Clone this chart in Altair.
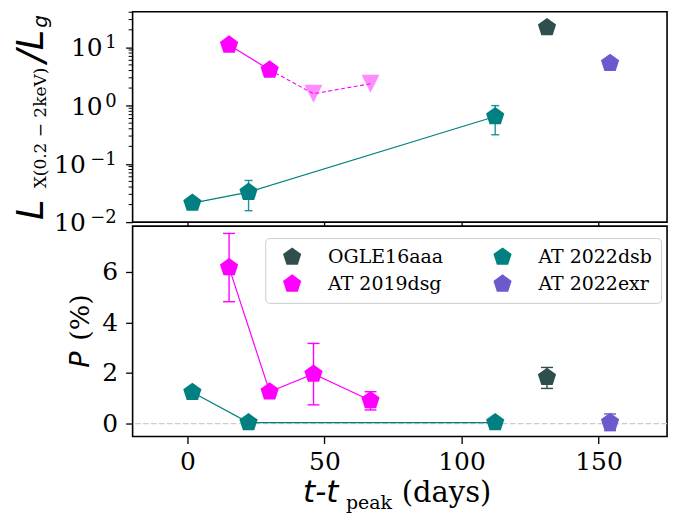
import altair as alt
import pandas as pd

PENTAGON = "M0,-1L0.951,-0.309L0.588,0.809L-0.588,0.809L-0.951,-0.309Z"
TRI_DOWN = "M-1,-1L1,-1L0,1Z"
SERIF = "DejaVu Serif"
SANS = "DejaVu Sans"

# ---------------- sources ----------------
names = ["OGLE16aaa", "AT 2019dsg", "AT 2022dsb", "AT 2022exr"]
name_colors = ["#2f4f4f", "#ff00ff", "#008080", "#6a5acd"]

# ---------------- L_X / L_g ----------------
ogle_t = [131.2]
ogle_ratio = [21.9]
dsg_t = [15.2, 30.0]
dsg_ratio = [11.0, 4.1]
dsg_lim_t = [46.0, 66.8]          # upper limits
dsg_lim_ratio = [1.6, 2.37]
dsb_t = [1.8, 22.3, 112.3]
dsb_ratio = [0.0212, 0.0327, 0.65]
dsb_err_t = [22.3, 112.3]
dsb_ratio_lo = [0.0157, 0.316]
dsb_ratio_hi = [0.0519, 1.0]
exr_t = [154.2]
exr_ratio = [5.33]

# ---------------- polarisation degree (%) ----------------
ogle_pol = [1.83]
ogle_pol_lo = [1.39]
ogle_pol_hi = [2.22]
dsg_pol_t = [15.2, 30.0, 46.0, 66.8]
dsg_pol = [6.17, 1.26, 1.96, 0.91]
dsg_err_t = [15.2, 46.0, 66.8]
dsg_pol_lo = [4.82, 0.74, 0.54]
dsg_pol_hi = [7.52, 3.17, 1.26]
dsb_pol = [1.24, 0.04, 0.04]
exr_pol = [0.05]
exr_pol_lo = [-0.28]
exr_pol_hi = [0.38]

# ---------------- axes ----------------
x_ticks = [0, 50, 100, 150]
ratio_ticks = [0.01, 0.1, 1, 10]
ratio_exps = ["\u22122", "\u22121", "0", "1"]
pol_ticks = [0, 2, 4, 6]
minor_ticks = [k * 10.0 ** e for e in (-2, -1, 0, 1) for k in range(2, 10) if k * 10.0 ** e <= 40.9]

W, H = 536, 211
MARK = 370
xs = alt.Scale(domain=[-20, 175], nice=False, zero=False)
ys_top = alt.Scale(type="log", domain=[0.01, 40.9], nice=False)
ys_bot = alt.Scale(domain=[-0.51, 7.81], nice=False, zero=False)
cscale = alt.Scale(domain=names, range=name_colors)

top_x_axis = alt.Axis(values=x_ticks, labels=False, title=None, tickSize=4)
top_y_axis = alt.Axis(values=ratio_ticks, labels=False, title=None)
bot_x_axis = alt.Axis(values=x_ticks, title=None, labelPadding=6)
bot_y_axis = alt.Axis(values=pol_ticks, title=None, labelPadding=8)


def df(**cols):
    return pd.DataFrame(cols)


XT = lambda: alt.X("t:Q", scale=xs, axis=top_x_axis)
XB = lambda: alt.X("t:Q", scale=xs, axis=bot_x_axis)
YT = lambda f="v": alt.Y(f"{f}:Q", scale=ys_top, axis=top_y_axis)
YB = lambda f="v": alt.Y(f"{f}:Q", scale=ys_bot, axis=bot_y_axis)


def text_piece(s, x, y, font, size, italic=False, angle=0, align="left"):
    return alt.Chart(df(s=[s])).mark_text(
        font=font, fontSize=size, fontStyle="italic" if italic else "normal",
        angle=angle, align=align, baseline="alphabetic", color="black"
    ).encode(text="s:N", x=alt.value(x), y=alt.value(y))


def errorbars(data, Xf, Yf, color, cap, opacity=1.0):
    base = alt.Chart(data)
    bar = base.mark_rule(color=color, strokeWidth=1.4, opacity=opacity).encode(
        x=Xf(), y=Yf("lo"), y2="hi:Q")
    lo = base.mark_tick(color=color, orient="horizontal", size=cap, thickness=1.4,
                        opacity=opacity).encode(x=Xf(), y=Yf("lo"))
    hi = base.mark_tick(color=color, orient="horizontal", size=cap, thickness=1.4,
                        opacity=opacity).encode(x=Xf(), y=Yf("hi"))
    return [bar, lo, hi]


# ================= upper panel =================
top_pts = df(
    name=["OGLE16aaa"] * len(ogle_t) + ["AT 2019dsg"] * len(dsg_t)
    + ["AT 2022dsb"] * len(dsb_t) + ["AT 2022exr"] * len(exr_t),
    t=ogle_t + dsg_t + dsb_t + exr_t,
    v=ogle_ratio + dsg_ratio + dsb_ratio + exr_ratio,
)

top_anchor = alt.Chart(df(a=[0])).mark_rule(opacity=0, strokeWidth=1).encode(
    x=alt.value(-131.5), x2=alt.value(550.5), y=alt.value(-9.5))

top_layers = [top_anchor]
top_layers.append(alt.Chart(df(t=dsb_t, v=dsb_ratio)).mark_line(
    color="#008080", strokeWidth=1.2).encode(x=XT(), y=YT()))
top_layers.append(alt.Chart(df(t=dsg_t, v=dsg_ratio)).mark_line(
    color="#ff00ff", strokeWidth=1.2).encode(x=XT(), y=YT()))
top_layers += errorbars(df(t=dsb_err_t, lo=dsb_ratio_lo, hi=dsb_ratio_hi),
                        XT, YT, "#008080", 8, 0.85)
top_layers.append(alt.Chart(df(t=dsg_lim_t, v=dsg_lim_ratio)).mark_point(
    shape=TRI_DOWN, filled=True, size=324, color="#ff00ff", opacity=0.45,
    strokeWidth=0).encode(x=XT(), y=YT()))
top_layers.append(alt.Chart(df(t=dsg_t[-1:] + dsg_lim_t, v=dsg_ratio[-1:] + dsg_lim_ratio)).mark_line(
    color="#ff00ff", strokeWidth=1.1, strokeDash=[4, 2.5]).encode(x=XT(), y=YT()))
top_layers.append(alt.Chart(top_pts).mark_point(
    shape=PENTAGON, filled=True, size=MARK, opacity=1, strokeWidth=0).encode(
    x=XT(), y=YT(),
    color=alt.Color("name:N", scale=cscale, legend=None),
))
# minor log ticks
top_layers.append(alt.Chart(df(v=minor_ticks)).mark_rule(color="black", strokeWidth=1).encode(
    y=YT(), x=alt.value(-4), x2=alt.value(0)))
# decade labels 10^n
tick_df = df(v=ratio_ticks, e=ratio_exps)
top_layers.append(alt.Chart(tick_df).transform_filter("datum.v >= 1").mark_text(
    text="10", font=SERIF, fontSize=25, align="right", baseline="alphabetic", dy=9,
    color="black").encode(y=YT(), x=alt.value(-30)))
top_layers.append(alt.Chart(tick_df).transform_filter("datum.v < 1").mark_text(
    text="10", font=SERIF, fontSize=25, align="right", baseline="alphabetic", dy=9,
    color="black").encode(y=YT(), x=alt.value(-47)))
top_layers.append(alt.Chart(tick_df).mark_text(
    font=SERIF, fontSize=18, align="right", baseline="alphabetic", dy=1,
    color="black").encode(text="e:N", y=YT(), x=alt.value(-16)))
# y title  L_X(0.2-2keV) / L_g
top_layers += [
    text_piece("L", -90, 209, SANS, 37, italic=True, angle=270),
    text_piece("X(0.2 \u2212 2keV)", -87, 177, SERIF, 17, angle=270),
    text_piece("/L", -90, 51, SANS, 37, italic=True, angle=270),
    text_piece("g", -86, 16, SANS, 20, italic=True, angle=270),
]
top = alt.layer(*top_layers).properties(width=W, height=H)

# ================= lower panel =================
bot_pts = df(
    name=["OGLE16aaa"] * len(ogle_t) + ["AT 2019dsg"] * len(dsg_pol_t)
    + ["AT 2022dsb"] * len(dsb_t) + ["AT 2022exr"] * len(exr_t),
    t=ogle_t + dsg_pol_t + dsb_t + exr_t,
    v=ogle_pol + dsg_pol + dsb_pol + exr_pol,
)

bot_anchor = alt.Chart(df(a=[0])).mark_rule(opacity=0, strokeWidth=1).encode(
    x=alt.value(-131.5), x2=alt.value(550.5), y=alt.value(293.5))

bot_layers = [bot_anchor]
bot_layers.append(alt.Chart(df(v=[0])).mark_rule(
    color="#cccccc", strokeDash=[5.5, 2.5], strokeWidth=1.4).encode(y=YB()))
bot_layers.append(alt.Chart(df(t=dsb_t, v=dsb_pol)).mark_line(
    color="#008080", strokeWidth=1.2).encode(x=XB(), y=YB()))
bot_layers.append(alt.Chart(df(t=dsg_pol_t, v=dsg_pol)).mark_line(
    color="#ff00ff", strokeWidth=1.2).encode(x=XB(), y=YB()))
bot_layers += errorbars(df(t=dsg_err_t, lo=dsg_pol_lo, hi=dsg_pol_hi), XB, YB, "#ff00ff", 12)
bot_layers += errorbars(df(t=ogle_t, lo=ogle_pol_lo, hi=ogle_pol_hi), XB, YB, "#2f4f4f", 12)
bot_layers += errorbars(df(t=exr_t, lo=exr_pol_lo, hi=exr_pol_hi), XB, YB, "#6a5acd", 12)
bot_layers.append(alt.Chart(bot_pts).mark_point(
    shape=PENTAGON, filled=True, size=MARK, opacity=1, strokeWidth=0).encode(
    x=XB(), y=YB(),
    color=alt.Color("name:N", scale=cscale,
                    legend=alt.Legend(
                        title=None, orient="none", legendX=133, legendY=12, columns=2,
                        symbolType=PENTAGON, symbolSize=MARK, symbolStrokeWidth=0,
                        symbolOffset=8, labelOffset=26, columnPadding=41, rowPadding=7,
                        labelFont=SERIF, labelFontSize=19, labelColor="black",
                        strokeColor="#cccccc", fillColor="white", padding=9,
                        cornerRadius=4)),
))
# y title  P (%)
bot_layers += [
    text_piece("P", -44, 142, SANS, 27, italic=True, angle=270),
    text_piece("(%)", -44, 115, SERIF, 27, angle=270),
]
# x title  t-t_peak (days)
bot_layers += [
    text_piece("t-t", 171, 277, SANS, 31, italic=True),
    text_piece("peak", 214, 284, SERIF, 19),
    text_piece("(days)", 270, 277, SERIF, 29),
]
bottom = alt.layer(*bot_layers).properties(width=W, height=H)

chart = alt.vconcat(top, bottom, spacing=4).resolve_scale(color="independent").properties(
    bounds="flush", padding=0, background="white"
).configure_view(stroke="black", strokeWidth=1.6).configure_axis(
    domain=False, grid=False, labelFont=SERIF, labelFontSize=25, labelColor="black",
    tickColor="black", tickWidth=1.3, tickSize=7,
)

chart.save("out.html", embed_options={"renderer": "svg", "actions": False})
